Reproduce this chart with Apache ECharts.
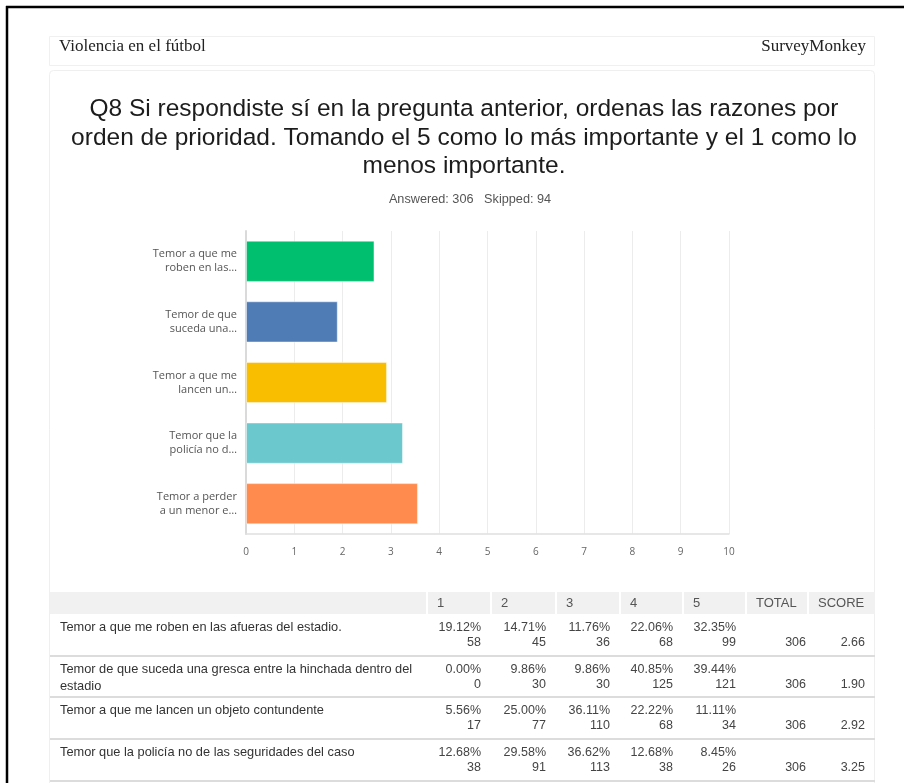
<!DOCTYPE html>
<html>
<head>
<meta charset="utf-8">
<script src="https://cdn.jsdelivr.net/npm/echarts@6/dist/echarts.min.js"></script>
<style>
html,body{margin:0;padding:0;background:#fff;}
#chart{width:904px;height:783px;}
</style>
</head>
<body>
<div id="chart"></div>
<script>
// ---- data ----
const surveyName = 'Violencia en el fútbol';
const brandName = 'SurveyMonkey';
const questionTitle = 'Q8 Si respondiste sí en la pregunta anterior, ordenas las razones por\norden de prioridad. Tomando el 5 como lo más importante y el 1 como lo\nmenos importante.';
const answeredText = 'Answered: 306   Skipped: 94';

const barCategories = [
  'Temor a que me\nroben en las…',
  'Temor de que\nsuceda una…',
  'Temor a que me\nlancen un…',
  'Temor que la\npolicía no d…',
  'Temor a perder\na un menor e…'
];
const barScores = [2.66, 1.90, 2.92, 3.25, 3.56];
const barColors = ['#00BF6F', '#507CB6', '#F9BE00', '#6BC8CD', '#FF8B4F'];

const tableHeaders = ['1', '2', '3', '4', '5', 'TOTAL', 'SCORE'];
const rowLabels = [
  'Temor a que me roben en las afueras del estadio.',
  'Temor de que suceda una gresca entre la hinchada dentro del estadio',
  'Temor a que me lancen un objeto contundente',
  'Temor que la policía no de las seguridades del caso'
];
const pctRows = [
  [19.12, 14.71, 11.76, 22.06, 32.35],
  [0.00, 9.86, 9.86, 40.85, 39.44],
  [5.56, 25.00, 36.11, 22.22, 11.11],
  [12.68, 29.58, 36.62, 12.68, 8.45]
];
const countRows = [
  [58, 45, 36, 68, 99],
  [0, 30, 30, 125, 121],
  [17, 77, 110, 68, 34],
  [38, 91, 113, 38, 26]
];
const rowTotals = [306, 306, 306, 306];
const rowScores = [2.66, 1.90, 2.92, 3.25];

// ---- layout ----
const SANS = '"Liberation Sans", Arial, Helvetica, sans-serif';
const SERIF = '"Liberation Serif", "Times New Roman", serif';
const OPEN = '"Open Sans", "Noto Sans", sans-serif';
const colEdges = [50, 427, 491, 556, 620, 683, 746, 808, 875];
const headTop = 592, headBottom = 614;
const rowTops = [614, 656, 697, 739];
const rowBottoms = [656, 697, 739, 781];

const g = [];
// page frame
g.push({type:'line', shape:{x1:6, y1:7, x2:904, y2:7}, style:{stroke:'#000', lineWidth:2.5}, silent:true});
g.push({type:'line', shape:{x1:7, y1:6, x2:7, y2:783}, style:{stroke:'#000', lineWidth:2.5}, silent:true});
// header box
g.push({type:'rect', shape:{x:49.5, y:36.5, width:825, height:29}, style:{fill:'#fff', stroke:'#f0f0f0', lineWidth:1}, silent:true});
g.push({type:'text', x:59, y:47, style:{text:surveyName, font:'17px ' + SERIF, fill:'#222', align:'left', verticalAlign:'middle'}, silent:true});
g.push({type:'text', x:866, y:47, style:{text:brandName, font:'17px ' + SERIF, fill:'#222', align:'right', verticalAlign:'middle'}, silent:true});
// card
g.push({type:'rect', shape:{x:49.5, y:70.5, width:825, height:730, r:4}, style:{fill:'none', stroke:'#efefef', lineWidth:1}, silent:true});
// title
g.push({type:'text', x:464, y:138, style:{text:questionTitle, font:'24.5px ' + SANS, fill:'#1c1c1c', align:'center', verticalAlign:'middle', lineHeight:28.5}, silent:true});
g.push({type:'text', x:470, y:199, style:{text:answeredText, font:'12.7px ' + SANS, fill:'#555', align:'center', verticalAlign:'middle'}, silent:true});

// table header
g.push({type:'rect', shape:{x:colEdges[0], y:headTop, width:colEdges[8]-colEdges[0], height:headBottom-headTop}, style:{fill:'#f1f1f1'}, silent:true});
for (let i = 1; i < colEdges.length - 1; i++) {
  g.push({type:'line', shape:{x1:colEdges[i], y1:headTop, x2:colEdges[i], y2:headBottom}, style:{stroke:'#fff', lineWidth:2}, silent:true});
}
tableHeaders.forEach((h, i) => {
  g.push({type:'text', x:colEdges[i+1] + 10, y:(headTop+headBottom)/2 + 0.5, style:{text:h, font:'13px ' + SANS, fill:'#555', align:'left', verticalAlign:'middle'}, silent:true});
});
// table rows
rowLabels.forEach((lab, r) => {
  const top = rowTops[r];
  g.push({type:'text', x:60, y:top + 5, style:{text:lab, font:'12.8px ' + SANS, fill:'#333', align:'left', verticalAlign:'top', lineHeight:17, width:370, overflow:'break'}, silent:true});
  for (let c = 0; c < 5; c++) {
    const xr = colEdges[c+2] - 10;
    g.push({type:'text', x:xr, y:top + 14, style:{text:pctRows[r][c].toFixed(2) + '%', font:'12.5px ' + SANS, fill:'#444', align:'right', verticalAlign:'middle'}, silent:true});
    g.push({type:'text', x:xr, y:top + 29, style:{text:String(countRows[r][c]), font:'12.5px ' + SANS, fill:'#444', align:'right', verticalAlign:'middle'}, silent:true});
  }
  g.push({type:'text', x:806, y:top + 29, style:{text:String(rowTotals[r]), font:'12.5px ' + SANS, fill:'#444', align:'right', verticalAlign:'middle'}, silent:true});
  g.push({type:'text', x:865, y:top + 29, style:{text:rowScores[r].toFixed(2), font:'12.5px ' + SANS, fill:'#444', align:'right', verticalAlign:'middle'}, silent:true});
  g.push({type:'line', shape:{x1:colEdges[0], y1:rowBottoms[r], x2:colEdges[8], y2:rowBottoms[r]}, style:{stroke:'#dcdcdc', lineWidth:2}, silent:true});
});

const chart = echarts.init(document.getElementById('chart'), null, {renderer:'canvas'});
chart.setOption({
  animation: false,
  backgroundColor: '#fff',
  grid: {left:246, right:175, top:231, bottom:249, containLabel:false},
  xAxis: {
    type: 'value', min: 0, max: 10, interval: 1,
    axisLine: {show:true, lineStyle:{color:'#e0e0e0', width:1.5}},
    axisTick: {show:false},
    splitLine: {show:true, lineStyle:{color:'#ececec', width:1}},
    axisLabel: {color:'#666', fontSize:10, fontFamily:OPEN, margin:13}
  },
  yAxis: {
    type: 'category', inverse: true, data: barCategories,
    axisLine: {show:true, lineStyle:{color:'#dadada', width:2}},
    axisTick: {show:false},
    splitLine: {show:false},
    axisLabel: {color:'#555', fontSize:11, fontFamily:OPEN, lineHeight:14, margin:9, align:'right'}
  },
  series: [{
    type: 'bar',
    barCategoryGap: '32%',
    data: barScores.map((v, i) => ({value:v, itemStyle:{color:barColors[i]}})),
    itemStyle: {borderColor:'rgba(255,255,255,0.45)', borderWidth:1},
    z: 3
  }],
  graphic: {elements: g}
});
</script>
</body>
</html>
